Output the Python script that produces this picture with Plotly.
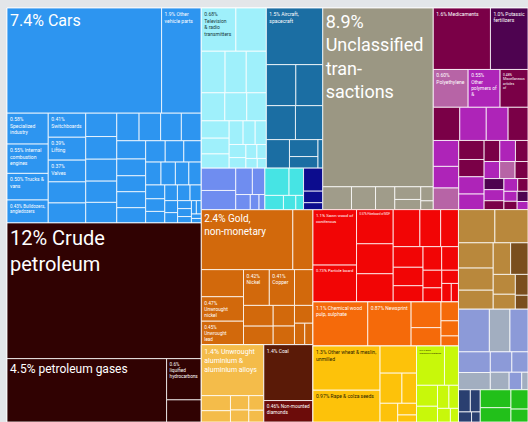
import plotly.graph_objects as go

# ---------------- data: product shares of exports (%) ----------------
# Transportation (blue)
transport_labels = ["7.4% Cars", "1.9% Other<br>vehicle parts", "0.58%<br>Specialized<br>industry",
                    "0.55% Internal<br>combustion<br>engines", "0.50% Trucks &<br>vans",
                    "0.43% Bulldozers,<br>angledozers", "0.41%<br>Switchboards", "0.39%<br>Lifting",
                    "0.37%<br>Valves"]
transport_values = [7.4, 1.9, 0.58, 0.55, 0.50, 0.43, 0.41, 0.39, 0.37]
transport_other = [0.36, 0.34, 0.33, 0.32, 0.31, 0.30, 0.29, 0.28, 0.27, 0.26, 0.25, 0.24,
                   0.22, 0.21, 0.21, 0.20, 0.19, 0.18, 0.17, 0.16, 0.15, 0.14, 0.13, 0.12,
                   0.11, 0.10, 0.09, 0.09, 0.08, 0.07, 0.06, 0.05, 0.05, 0.04, 0.03, 0.03,
                   0.02, 0.02]

# Mineral fuels (dark)
petroleum_labels = ["12% Crude<br>petroleum", "4.5% petroleum gases",
                    "0.6%<br>liquified<br>hydrocarbons"]
petroleum_values = [12.0, 4.6, 0.65]
petroleum_other = [0.35]

# Machinery sub-groups
electronics_labels = ["0.68%<br>Television<br>& radio<br>transmitters"]
electronics_values = [0.68]
electronics_other = [0.60, 0.45, 0.40, 0.38, 0.30, 0.28, 0.25, 0.22, 0.20, 0.18, 0.15,
                     0.13, 0.12, 0.10, 0.08, 0.07, 0.06, 0.05, 0.04]
aircraft_labels = ["1.5% Aircraft,<br>spacecraft"]
aircraft_values = [1.45]
aircraft_other = [0.55, 0.50, 0.45, 0.42, 0.30, 0.22, 0.15, 0.06]
machines_other = [0.35, 0.30, 0.20, 0.15, 0.10, 0.06, 0.04]
instruments_other = [0.30, 0.18, 0.12, 0.08, 0.05]
computers_other = [0.20, 0.10, 0.06]

# Unclassified (gray)
unclassified_labels = ["8.9%<br>Unclassified<br>tran-<br>sactions"]
unclassified_values = [9.0]
unclassified_other = [0.30, 0.25, 0.20, 0.15, 0.12, 0.08, 0.05]

# Chemicals & plastics
pharma_labels = ["1.6% Medicaments", "0.48%<br>Miscellaneous<br>articles<br>of"]
pharma_values = [1.6, 0.48]
pharma_other = [0.40, 0.30, 0.22, 0.20, 0.15, 0.12, 0.10, 0.08, 0.06, 0.05]
fertilizer_labels = ["1.0% Potassic<br>fertilizers"]
fertilizer_values = [1.05]
fertilizer_other = [0.10, 0.05]
polymer_labels = ["0.55%<br>Other<br>polymers of<br>&"]
polymer_values = [0.55]
polymer_other = [0.40, 0.33, 0.30, 0.25, 0.20, 0.18, 0.15, 0.12, 0.10, 0.08, 0.06, 0.04]
polyethylene_labels = ["0.60%<br>Polyethylene"]
polyethylene_values = [0.60]
polyethylene_other = [0.25, 0.12]

# Metals
metals_labels = ["2.4% Gold,<br>non-monetary", "0.47%<br>Unwrought<br>nickel", "0.45%<br>Unwrought<br>lead",
                 "0.42%<br>Nickel", "0.41%<br>Copper"]
metals_values = [2.5, 0.47, 0.45, 0.42, 0.41]
metals_other = [0.55, 0.52, 0.30, 0.28, 0.25, 0.20, 0.18, 0.15, 0.10, 0.08]
aluminium_labels = ["1.4% Unwrought<br>aluminium &<br>aluminium alloys"]
aluminium_values = [1.45]
aluminium_other = [0.20, 0.15, 0.12, 0.10, 0.10, 0.08]
coal_labels = ["1.4% Coal", "0.46% Non-mounted<br>diamonds"]
coal_values = [1.25, 0.48]

# Wood, paper, vegetables
wood_labels = ["1.1% Sawn wood of<br>coniferous", "0.73% Particle board", "0.57% Fibreboard of MDF"]
wood_values = [1.10, 0.73, 0.57]
wood_other = [0.50, 0.47, 0.45, 0.35, 0.30, 0.28, 0.25, 0.22, 0.20, 0.18, 0.15, 0.12, 0.10, 0.08, 0.06]
paper_labels = ["1.1% Chemical wood<br>pulp, sulphate", "0.87% Newsprint"]
paper_values = [1.10, 0.87]
paper_other = [0.35, 0.25, 0.15, 0.12, 0.08]
cereal_labels = ["1.3% Other wheat & meslin,<br>unmilled", "0.97% Rape & colza seeds"]
cereal_values = [1.35, 0.97]
cereal_other = [0.45, 0.30, 0.20, 0.15, 0.10, 0.06]
vegetable_labels = ["0.51% Dried<br>leguminous vegetables"]
vegetable_values = [0.50]
vegetable_other = [0.25, 0.20, 0.15, 0.12, 0.10, 0.08, 0.05]
food_other = [0.55, 0.50, 0.40, 0.35, 0.30, 0.25, 0.20, 0.15]
meat_other = [0.25, 0.12, 0.08]
minerals_other = [0.60, 0.35, 0.30, 0.20, 0.15, 0.10]
stone_other = [0.40, 0.25, 0.15, 0.05]
textile_other = [0.12, 0.10, 0.06, 0.04]
animal_other = [0.25, 0.20, 0.15, 0.10]

# ---------------- styles ----------------
big_sizes = {"7.4% Cars": 16, "12% Crude<br>petroleum": 20, "4.5% petroleum gases": 12,
             "8.9%<br>Unclassified<br>tran-<br>sactions": 18, "2.4% Gold,<br>non-monetary": 10,
             "1.4% Unwrought<br>aluminium &<br>aluminium alloys": 7}
dark_text = "#2a2200"

ids, labels, parents, values, colors, texts, sizes, tcolors = [], [], [], [], [], [], [], []


def add_node(id_, parent, value, color, text="", tcolor="white"):
    ids.append(id_)
    labels.append(id_.split("/")[-1])
    parents.append(parent)
    values.append(value)
    colors.append(color)
    texts.append(text)
    sizes.append(big_sizes.get(text, 5))
    tcolors.append(tcolor)


def add_sector(name, parent, color, groups, tcolor="white"):
    add_node(name, parent, 0, color)
    items = []
    for labs, vals, col in groups:
        labs = list(labs) + [""] * (len(vals) - len(labs))
        for lab, v in zip(labs, vals):
            items.append((v, lab, col))
    items.sort(key=lambda t: -t[0])
    for i, (v, lab, col) in enumerate(items):
        add_node(f"{name}/{i}", name, v, col, lab, tcolor)


add_sector("Transportation", "", "#2d95f0",
           [(transport_labels, transport_values + transport_other, "#2d95f0")])
add_sector("Mineral fuels", "", "#300202",
           [(petroleum_labels, petroleum_values + petroleum_other, "#300202")])
add_node("Machinery", "", 0, "#9ff0fb")
add_sector("Electronics", "Machinery", "#9ff0fb",
           [(electronics_labels, electronics_values + electronics_other, "#9ff0fb")], tcolor="#1a3a40")
add_sector("Aircraft", "Machinery", "#1b6ea3",
           [(aircraft_labels, aircraft_values + aircraft_other, "#1b6ea3")])
add_sector("Machines", "Machinery", "#6f8df0", [([], machines_other, "#6f8df0")])
add_sector("Instruments", "Machinery", "#46e4e4", [([], instruments_other, "#46e4e4")])
add_sector("Computers", "Machinery", "#0c0c8e", [([], computers_other, "#0c0c8e")])
add_sector("Unclassified", "", "#9b9783",
           [(unclassified_labels, unclassified_values, "#9b9783"),
            ([], unclassified_other, "#a09c8a")])
add_sector("Chemicals", "", "#7a0047",
           [(pharma_labels, pharma_values + pharma_other, "#7a0047"),
            (fertilizer_labels, fertilizer_values + fertilizer_other, "#4e0350"),
            (polymer_labels, polymer_values + polymer_other, "#ae24b8"),
            (polyethylene_labels, polyethylene_values + polyethylene_other, "#b764a6")])
add_sector("Metals", "", "#d2690c",
           [(metals_labels, metals_values, "#d2690c"), ([], metals_other, "#d2690c")])
add_node("Mining products", "", 0, "#f4bc4a")
add_sector("Aluminium", "Mining products", "#f4bc4a",
           [(aluminium_labels, aluminium_values + aluminium_other, "#f4bc4a")])
add_sector("Coal", "Mining products", "#5a1a07",
           [(coal_labels[:1], coal_values[:1], "#5a1a07"), (coal_labels[1:], coal_values[1:], "#6c0c0a")])
add_sector("Wood", "", "#f20505",
           [(wood_labels, wood_values + wood_other, "#f20505")])
add_node("Pulp & crops", "", 0, "#f56a0a")
add_sector("Paper", "Pulp & crops", "#f56a0a",
           [(paper_labels, paper_values + paper_other, "#f56a0a")])
add_node("Vegetable products", "Pulp & crops", 0, "#fdc20a")
add_sector("Cereals", "Vegetable products", "#fdc20a",
           [(cereal_labels, cereal_values + cereal_other, "#fdc20a")], tcolor=dark_text)
add_sector("Vegetables", "Vegetable products", "#c8f80a",
           [(vegetable_labels, vegetable_values + vegetable_other, "#c8f80a")], tcolor=dark_text)
add_sector("Foodstuffs", "", "#b9883c",
           [([], food_other, "#b9883c"), ([], meat_other, "#7a4e1e")])
add_sector("Minerals", "", "#8c9ad8",
           [([], minerals_other, "#8c9ad8"), ([], stone_other, "#a2aec0")])
add_sector("Textiles", "", "#2a3f70", [([], textile_other, "#2a3f70")])
add_sector("Animals", "", "#22c01a", [([], animal_other, "#22c01a")])

fig = go.Figure(go.Treemap(
    ids=ids, labels=labels, parents=parents, values=values,
    branchvalues="remainder", sort=False,
    text=texts, textinfo="text", textposition="top left",
    textfont=dict(family="Roboto, sans-serif", size=sizes, color=tcolors),
    marker=dict(colors=colors, line=dict(color="rgba(255,255,255,0.8)", width=1),
                pad=dict(t=0, l=0, r=0, b=0)),
    tiling=dict(packing="squarify", squarifyratio=1.43, pad=0),
    pathbar=dict(visible=False),
    hoverinfo="skip",
))
fig.update_layout(width=528, height=422, margin=dict(l=7, r=0, t=8, b=0),
                  paper_bgcolor="#e3e6e9")
fig.write_html("out.html", config={"displayModeBar": False},
               post_script="document.body.style.margin='0px';document.body.style.overflow='hidden';")
